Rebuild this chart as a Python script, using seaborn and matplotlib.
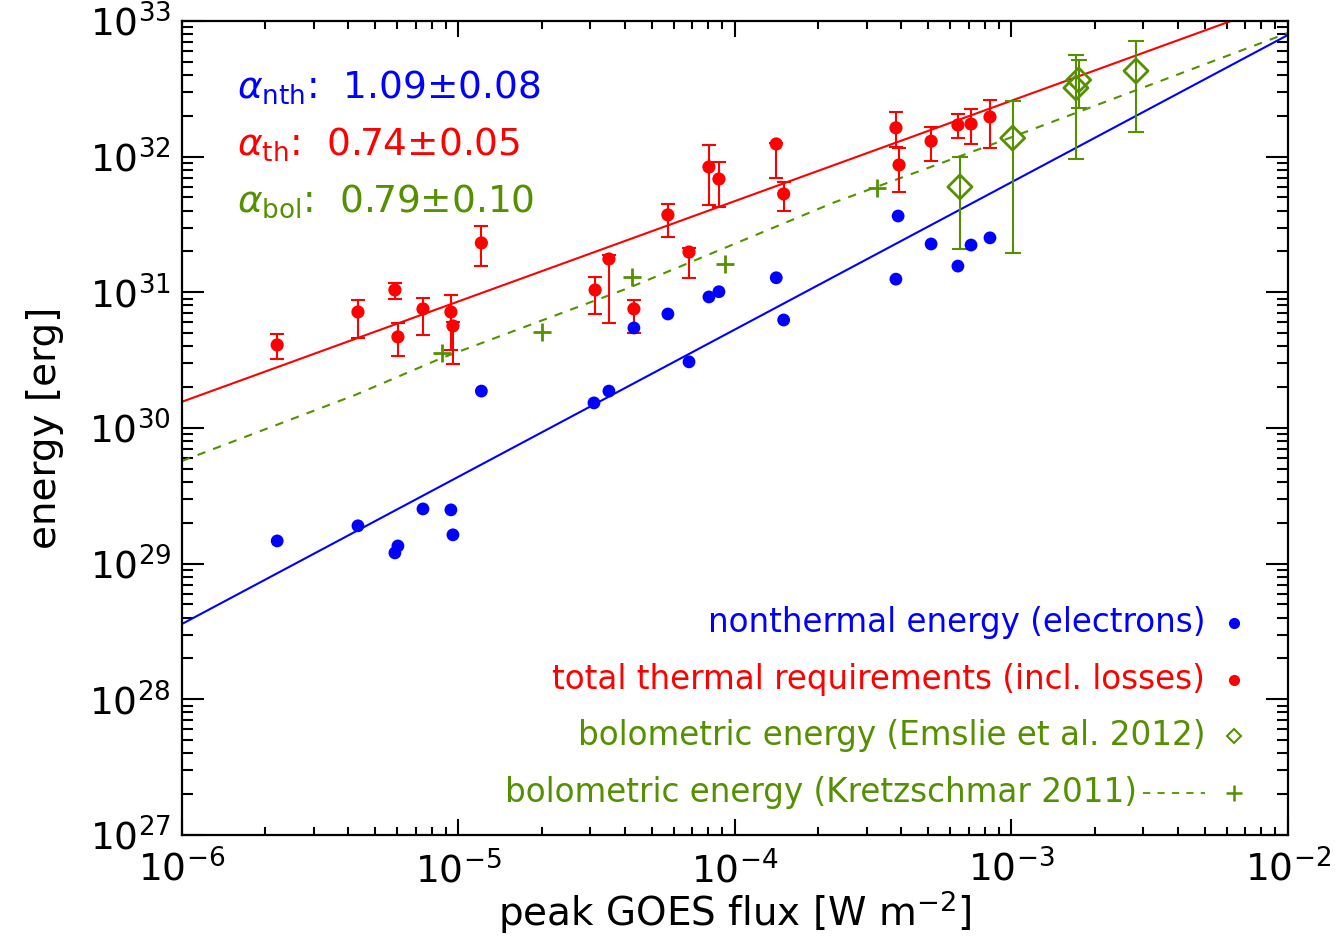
import numpy as np
import pandas as pd
import matplotlib
matplotlib.use("Agg")
import matplotlib.pyplot as plt
import seaborn as sns

BLUE = "#0000ff"
RED = "#ff0000"
GREEN = "#559000"

# nonthermal energy (electrons)
nth_flux = [2.21e-6, 4.33e-6, 5.89e-6, 6.04e-6, 7.44e-6, 9.39e-6, 9.55e-6, 1.21e-5,
            3.09e-5, 3.50e-5, 4.31e-5, 5.72e-5, 6.82e-5, 8.05e-5, 8.75e-5, 1.41e-4,
            1.50e-4, 3.89e-4, 3.82e-4, 5.12e-4, 6.40e-4, 7.14e-4, 8.36e-4]
nth_energy = [1.47e29, 1.90e29, 1.20e29, 1.35e29, 2.53e29, 2.49e29, 1.63e29, 1.87e30,
              1.53e30, 1.87e30, 5.46e30, 6.92e30, 3.07e30, 9.24e30, 1.01e31, 1.28e31,
              6.25e30, 3.65e31, 1.25e31, 2.27e31, 1.56e31, 2.23e31, 2.52e31]

# total thermal requirements (incl. losses)
th_flux = [2.21e-6, 4.33e-6, 5.89e-6, 6.04e-6, 7.44e-6, 9.39e-6, 9.55e-6, 1.21e-5,
           3.12e-5, 3.50e-5, 4.31e-5, 5.72e-5, 6.82e-5, 8.05e-5, 8.75e-5, 1.41e-4,
           1.50e-4, 3.82e-4, 3.92e-4, 5.12e-4, 6.40e-4, 7.14e-4, 8.36e-4]
th_energy = [4.09e30, 7.16e30, 1.04e31, 4.69e30, 7.54e30, 7.16e30, 5.65e30, 2.31e31,
             1.04e31, 1.76e31, 7.54e30, 3.72e31, 1.98e31, 8.39e31, 6.84e31, 1.24e32,
             5.31e31, 1.63e32, 8.68e31, 1.30e32, 1.71e32, 1.74e32, 1.96e32]
th_upper = [4.93e30, 8.79e30, 1.17e31, 5.94e30, 9.08e30, 9.55e30, 6.04e30, 3.08e31,
            1.30e31, 1.88e31, 8.79e30, 4.48e31, 2.12e31, 1.22e32, 9.14e31, 1.26e32,
            6.51e31, 2.13e32, 1.16e32, 1.66e32, 2.07e32, 2.25e32, 2.62e32]
th_lower = [3.23e30, 4.61e30, 8.93e30, 3.40e30, 4.85e30, 3.76e30, 2.96e30, 1.56e31,
            6.92e30, 5.94e30, 5.01e30, 2.56e31, 1.28e31, 4.41e31, 4.26e31, 6.96e31,
            3.98e31, 1.18e32, 5.49e31, 9.29e31, 1.37e32, 1.24e32, 1.16e32]

# bolometric energy (Emslie et al. 2012)
em_flux = [6.51e-4, 1.01e-3, 1.71e-3, 1.75e-3, 2.82e-3]
em_energy = [5.98e31, 1.37e32, 3.21e32, 3.67e32, 4.28e32]
em_upper = [9.95e31, 2.57e32, 5.61e32, 5.16e32, 7.13e32]
em_lower = [2.08e31, 1.95e31, 9.61e31, 2.28e32, 1.52e32]

# bolometric energy (Kretzschmar 2011)
kr_flux = [8.71e-6, 2.00e-5, 4.24e-5, 9.20e-5, 3.26e-4]
kr_energy = [3.57e30, 5.10e30, 1.30e31, 1.62e31, 5.88e31]
kr_curve_flux = [1e-6, 4.23e-6, 8.71e-6, 4.14e-5, 2.26e-4, 1.01e-3, 1e-2]
kr_curve_energy = [5.71e29, 1.75e30, 3.28e30, 1.08e31, 4.56e31, 1.40e32, 8.17e32]

# power-law fits (end points)
fit_flux = [1e-6, 1e-2]
nth_fit = [3.59e28, 7.89e32]
th_fit = [1.56e30, 1.42e33]

x_ticks = [1e-6, 1e-5, 1e-4, 1e-3, 1e-2]
y_ticks = [1e27, 1e28, 1e29, 1e30, 1e31, 1e32, 1e33]

alpha_text = [(r"$\alpha_{\mathrm{nth}}$:  1.09±0.08", BLUE),
              (r"$\alpha_{\mathrm{th}}$:  0.74±0.05", RED),
              (r"$\alpha_{\mathrm{bol}}$:  0.79±0.10", GREEN)]

sns.set_style("ticks", {"axes.edgecolor": "black", "axes.labelcolor": "black",
                        "xtick.color": "black", "ytick.color": "black", "text.color": "black"})
plt.rcParams["font.family"] = ["DejaVu Sans"]
plt.rcParams["mathtext.fontset"] = "dejavusans"

fig = plt.figure(figsize=(13.35, 9.44), dpi=100)
ax = fig.add_axes([0.1363, 0.1155, 0.8285, 0.8623])
ax.set_xscale("log")
ax.set_yscale("log")

sns.lineplot(x=fit_flux, y=th_fit, color=RED, linewidth=1.5, ax=ax)
sns.lineplot(x=fit_flux, y=nth_fit, color=BLUE, linewidth=1.5, ax=ax)
sns.lineplot(x=kr_curve_flux, y=kr_curve_energy, color=GREEN, linewidth=1.5,
             linestyle=(0, (4, 4)), ax=ax)

th_e = np.array(th_energy)
ax.errorbar(th_flux, th_energy, yerr=[th_e - np.array(th_lower), np.array(th_upper) - th_e],
            fmt="none", ecolor=RED, elinewidth=1.5, capsize=5, capthick=1.5)
em_e = np.array(em_energy)
ax.errorbar(em_flux, em_energy, yerr=[em_e - np.array(em_lower), np.array(em_upper) - em_e],
            fmt="none", ecolor=GREEN, elinewidth=1.5, capsize=6, capthick=1.5)

sns.scatterplot(x=nth_flux, y=nth_energy, color=BLUE, s=85, edgecolor="none", ax=ax, zorder=4)
sns.scatterplot(x=th_flux, y=th_energy, color=RED, s=90, edgecolor="none", ax=ax, zorder=4)
sns.scatterplot(x=kr_flux, y=kr_energy, color=GREEN, marker="+", s=170, linewidth=2,
                edgecolor=None, ax=ax, zorder=4)
sns.scatterplot(x=em_flux, y=em_energy, color=GREEN, marker="D", s=150, linewidth=2,
                edgecolor=GREEN, ax=ax, zorder=4)
ax.collections[-1].set_facecolor("none")

ax.set_xlim(1e-6, 1e-2)
ax.set_ylim(1e27, 1e33)
ax.xaxis.set_major_locator(matplotlib.ticker.FixedLocator(x_ticks))
ax.yaxis.set_major_locator(matplotlib.ticker.FixedLocator(y_ticks))
ax.xaxis.set_major_formatter(matplotlib.ticker.LogFormatterSciNotation())
ax.yaxis.set_major_formatter(matplotlib.ticker.LogFormatterSciNotation())

for side in ax.spines.values():
    side.set_linewidth(1.6)
    side.set_color("black")
ax.tick_params(which="both", direction="in", top=True, right=True, width=1.5,
               color="black", labelcolor="black")
ax.tick_params(axis="x", which="major", length=11.5, pad=11, labelsize=27)
ax.tick_params(axis="x", which="minor", length=6)
ax.tick_params(axis="y", which="major", length=16, pad=8, labelsize=27)
ax.tick_params(axis="y", which="minor", length=8)
ax.yaxis.set_minor_locator(matplotlib.ticker.LogLocator(base=10, subs=np.arange(2, 10), numticks=20))
ax.xaxis.set_minor_locator(matplotlib.ticker.LogLocator(base=10, subs=np.arange(2, 10), numticks=20))
ax.xaxis.set_minor_formatter(matplotlib.ticker.NullFormatter())
ax.yaxis.set_minor_formatter(matplotlib.ticker.NullFormatter())

ax.set_xlabel(r"peak GOES flux [W m$^{-2}$]", fontsize=28, labelpad=-1, color="black")
ax.set_ylabel("energy [erg]", fontsize=28, labelpad=18, color="black")

for i, (txt, col) in enumerate(alpha_text):
    ax.text(0.05, 0.918 - i * 0.07, txt, color=col, fontsize=27, va="center", ha="left",
            transform=ax.transAxes)

# legend, drawn in axes coordinates
leg_y = [0.2604, 0.1904, 0.1216, 0.0516]
ax.text(0.925, leg_y[0], "nonthermal energy (electrons)", color=BLUE, fontsize=23.5,
        ha="right", va="center", transform=ax.transAxes)
ax.text(0.925, leg_y[1], "total thermal requirements (incl. losses)", color=RED, fontsize=23.5,
        ha="right", va="center", transform=ax.transAxes)
ax.text(0.925, leg_y[2], "bolometric energy (Emslie et al. 2012)", color=GREEN, fontsize=23.5,
        ha="right", va="center", transform=ax.transAxes)
ax.text(0.8635, leg_y[3], "bolometric energy (Kretzschmar 2011)", color=GREEN, fontsize=23.5,
        ha="right", va="center", transform=ax.transAxes)
ax.plot([0.951], [leg_y[0]], "o", color=BLUE, ms=7, transform=ax.transAxes, clip_on=False)
ax.plot([0.951], [leg_y[1]], "o", color=RED, ms=7, transform=ax.transAxes, clip_on=False)
ax.plot([0.951], [leg_y[2]], "D", mfc="none", mec=GREEN, mew=1.5, ms=7, transform=ax.transAxes)
ax.plot([0.869, 0.925], [leg_y[3], leg_y[3]], color=GREEN, lw=1.3, ls=(0, (4, 4)),
        transform=ax.transAxes)
ax.plot([0.951], [leg_y[3]], "+", color=GREEN, mew=1.8, ms=12, transform=ax.transAxes)

fig.savefig("out.png", dpi=100)
